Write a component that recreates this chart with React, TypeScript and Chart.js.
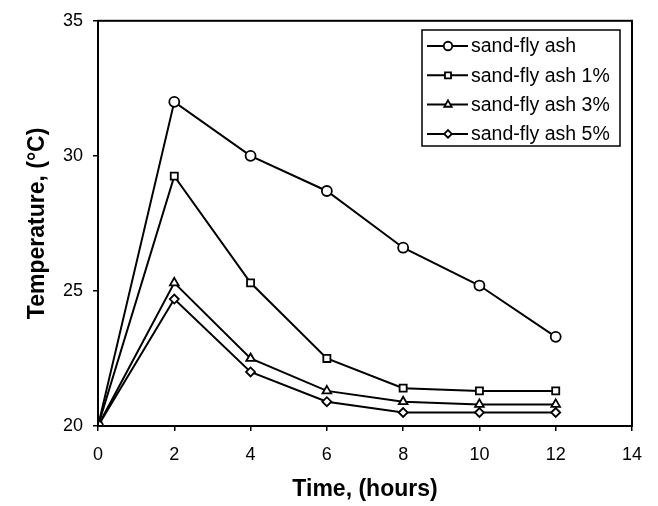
import React, { useEffect, useRef } from "react";
import { Chart, registerables } from "chart.js";

Chart.register(...registerables);

const timeHours = [0, 2, 4, 6, 8, 10, 12];
const seriesLabels = ["sand-fly ash", "sand-fly ash 1%", "sand-fly ash 3%", "sand-fly ash 5%"];
const ashPlain = [20, 32.0, 30.0, 28.7, 26.6, 25.2, 23.3];
const ash1 = [20, 29.25, 25.3, 22.5, 21.4, 21.3, 21.3];
const ash3 = [20, 25.3, 22.5, 21.3, 20.9, 20.8, 20.8];
const ash5 = [20, 24.7, 22.0, 20.9, 20.5, 20.5, 20.5];
const seriesValues = [ashPlain, ash1, ash3, ash5];
const pointStyles = ["circle", "rect", "triangle", "rectRot"];
const pointRadii = [5, 5, 5, 4.5];

const FONT = "'Liberation Sans', Arial, sans-serif";

function drawMarker(ctx: CanvasRenderingContext2D, style: string, x: number, y: number, r: number) {
  ctx.beginPath();
  if (style === "circle") {
    ctx.arc(x, y, r, 0, Math.PI * 2);
  } else if (style === "rect") {
    const s = r * Math.SQRT1_2;
    ctx.rect(x - s, y - s, 2 * s, 2 * s);
  } else if (style === "triangle") {
    const a = -Math.PI / 2;
    for (let i = 0; i < 3; i++) {
      const ang = a + (i * 2 * Math.PI) / 3;
      const px = x + Math.cos(ang) * r;
      const py = y + Math.sin(ang) * r;
      if (i === 0) ctx.moveTo(px, py);
      else ctx.lineTo(px, py);
    }
    ctx.closePath();
  } else {
    ctx.moveTo(x, y - r);
    ctx.lineTo(x + r, y);
    ctx.lineTo(x, y + r);
    ctx.lineTo(x - r, y);
    ctx.closePath();
  }
  ctx.fillStyle = "#fff";
  ctx.fill();
  ctx.lineWidth = 1.8;
  ctx.strokeStyle = "#000";
  ctx.stroke();
}

const framePlugin = {
  id: "frameAndLegend",
  afterDatasetsDraw(chart: any) {
    const { ctx, chartArea } = chart;
    ctx.save();
    ctx.lineWidth = 2;
    ctx.strokeStyle = "#000";
    ctx.strokeRect(chartArea.left, chartArea.top, chartArea.right - chartArea.left, chartArea.bottom - chartArea.top);

    // legend box
    const bx = 422, by = 30, bw = 198, bh = 116;
    ctx.fillStyle = "#fff";
    ctx.fillRect(bx, by, bw, bh);
    ctx.lineWidth = 1.5;
    ctx.strokeRect(bx, by, bw, bh);
    chart.data.datasets.forEach((ds: any, i: number) => {
      const cy = by + 16 + i * 29.3;
      ctx.beginPath();
      ctx.moveTo(bx + 5, cy);
      ctx.lineTo(bx + 46, cy);
      ctx.lineWidth = 2;
      ctx.strokeStyle = "#000";
      ctx.stroke();
      drawMarker(ctx, ds.pointStyle, bx + 26, cy, ds.pointRadius * 0.85);
      ctx.fillStyle = "#000";
      ctx.font = `19.5px ${FONT}`;
      ctx.textBaseline = "middle";
      ctx.textAlign = "left";
      ctx.fillText(ds.label, bx + 49, cy + 1);
    });
    ctx.restore();
  },
};

export default function App() {
  const canvasRef = useRef<HTMLCanvasElement | null>(null);

  useEffect(() => {
    const canvas = canvasRef.current;
    if (!canvas) return;
    const chart = new Chart(canvas, {
      type: "line",
      data: {
        datasets: seriesLabels.map((label, i) => ({
          label,
          data: timeHours.map((t, j) => ({ x: t, y: seriesValues[i][j] })),
          borderColor: "#000",
          borderWidth: 2,
          backgroundColor: "#fff",
          pointStyle: pointStyles[i],
          pointRadius: pointRadii[i],
          pointBorderWidth: 1.8,
          pointBorderColor: "#000",
          pointBackgroundColor: "#fff",
          tension: 0,
          fill: false,
        })),
      },
      options: {
        animation: false,
        responsive: false,
        maintainAspectRatio: false,
        layout: { padding: { top: 18, right: 26, left: 0, bottom: 0 } },
        plugins: {
          legend: { display: false },
          tooltip: { enabled: false },
        },
        scales: {
          x: {
            type: "linear",
            min: 0,
            max: 14,
            ticks: { stepSize: 2, color: "#000", font: { family: FONT, size: 18 }, padding: 13, maxRotation: 0 },
            grid: { display: true, drawOnChartArea: false, drawTicks: true, tickLength: 5, color: "#000", lineWidth: 1.5 },
            border: { display: false },
            title: {
              display: true,
              text: "Time, (hours)",
              color: "#000",
              font: { family: FONT, size: 23, weight: "bold" },
              padding: { top: 0, bottom: 3 },
            },
            afterFit: (scale: any) => {
              scale.height = 80;
            },
          },
          y: {
            type: "linear",
            min: 20,
            max: 35,
            ticks: { stepSize: 5, color: "#000", font: { family: FONT, size: 18 }, padding: 10 },
            grid: { display: true, drawOnChartArea: false, drawTicks: true, tickLength: 5, color: "#000", lineWidth: 1.5 },
            border: { display: false },
            title: {
              display: true,
              text: "Temperature, (°C)",
              color: "#000",
              font: { family: FONT, size: 23, weight: "bold" },
              padding: { top: 24, bottom: 0 },
            },
            afterFit: (scale: any) => {
              scale.width = 98;
            },
          },
        },
      } as any,
      plugins: [framePlugin],
    });
    return () => chart.destroy();
  }, []);

  return (
    <div style={{ position: "fixed", left: 0, top: 0, width: 658, height: 506, background: "#fff" }}>
      <canvas ref={canvasRef} width={658} height={506} style={{ width: 658, height: 506, display: "block" }} />
    </div>
  );
}
